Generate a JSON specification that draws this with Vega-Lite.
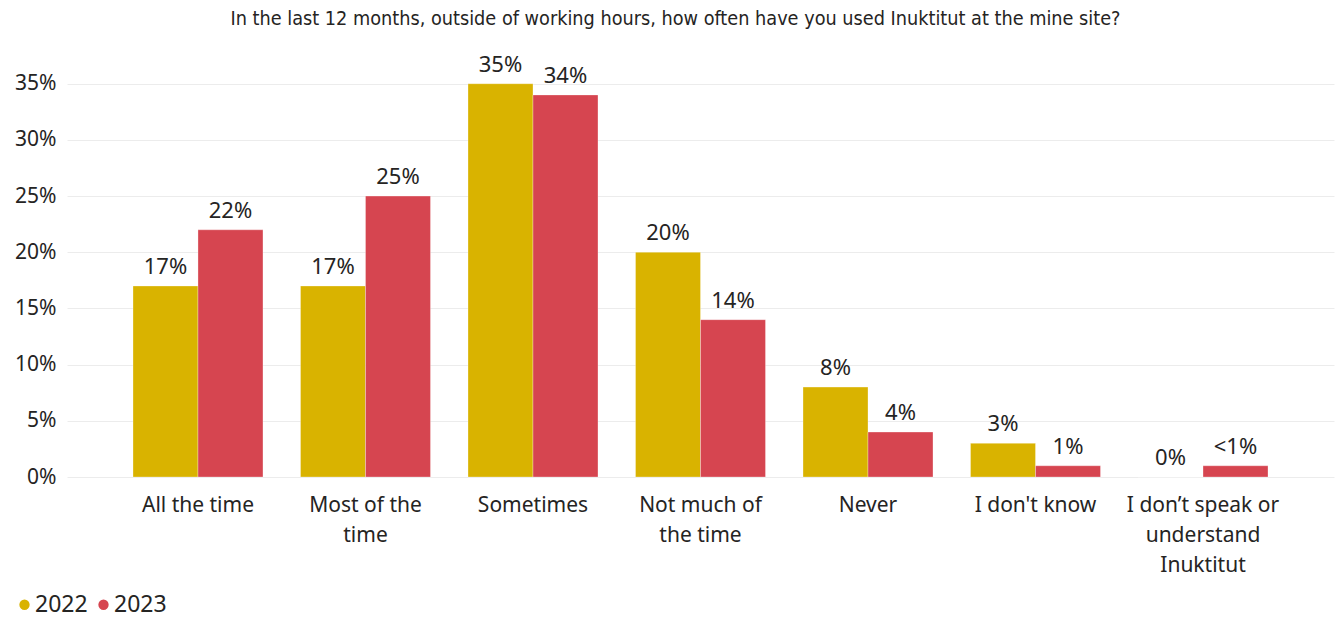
{
  "$schema": "https://vega.github.io/schema/vega-lite/v6.json",
  "autosize": {"type": "none"},
  "padding": {"left": 67, "top": 50, "right": 7, "bottom": 141},
  "width": 1267,
  "height": 427,
  "background": "white",
  "title": {
    "text": "In the last 12 months, outside of working hours, how often have you used Inuktitut at the mine site?",
    "font": "DejaVu Sans Condensed, Roboto",
    "fontSize": 19.7,
    "fontWeight": "normal",
    "color": "#252423",
    "anchor": "middle",
    "dx": -25,
    "offset": 21
  },
  "data": {
    "values": [
      {"category": "All the time", "year": "2022", "value": 0.17, "label": "17%"},
      {"category": "All the time", "year": "2023", "value": 0.22, "label": "22%"},
      {"category": "Most of the time", "year": "2022", "value": 0.17, "label": "17%"},
      {"category": "Most of the time", "year": "2023", "value": 0.25, "label": "25%"},
      {"category": "Sometimes", "year": "2022", "value": 0.35, "label": "35%"},
      {"category": "Sometimes", "year": "2023", "value": 0.34, "label": "34%"},
      {"category": "Not much of the time", "year": "2022", "value": 0.20, "label": "20%"},
      {"category": "Not much of the time", "year": "2023", "value": 0.14, "label": "14%"},
      {"category": "Never", "year": "2022", "value": 0.08, "label": "8%"},
      {"category": "Never", "year": "2023", "value": 0.04, "label": "4%"},
      {"category": "I don't know", "year": "2022", "value": 0.03, "label": "3%"},
      {"category": "I don't know", "year": "2023", "value": 0.01, "label": "1%"},
      {"category": "I don’t speak or understand Inuktitut", "year": "2022", "value": 0.0, "label": "0%"},
      {"category": "I don’t speak or understand Inuktitut", "year": "2023", "value": 0.01, "label": "<1%"}
    ]
  },
  "encoding": {
    "x": {
      "field": "category",
      "type": "nominal",
      "sort": null,
      "scale": {"paddingInner": 0.224, "paddingOuter": 0.394},
      "axis": {
        "title": null,
        "labelAngle": 0,
        "domain": false,
        "ticks": false,
        "labelFont": "Noto Sans",
        "labelFontSize": 21,
        "labelColor": "#252423",
        "labelPadding": 17,
        "labelLineHeight": 30,
        "labelLimit": 0,
        "labelExpr": "datum.value == 'Most of the time' ? ['Most of the', 'time'] : datum.value == 'Not much of the time' ? ['Not much of', 'the time'] : datum.value == 'I don’t speak or understand Inuktitut' ? ['I don’t speak or', 'understand', 'Inuktitut'] : datum.value"
      }
    },
    "xOffset": {"field": "year", "type": "nominal", "scale": {"paddingInner": 0, "paddingOuter": 0}},
    "y": {
      "field": "value",
      "type": "quantitative",
      "scale": {"domain": [0, 0.38], "nice": false},
      "axis": {
        "title": null,
        "format": ".0%",
        "values": [0, 0.05, 0.1, 0.15, 0.2, 0.25, 0.3, 0.35],
        "domain": false,
        "ticks": false,
        "labelFont": "Noto Sans",
        "labelFontSize": 21,
        "labelColor": "#252423",
        "labelPadding": 11,
        "gridColor": "#ececec",
        "gridWidth": 1
      }
    }
  },
  "layer": [
    {
      "mark": {"type": "bar", "stroke": "white", "strokeOpacity": 0.3, "strokeWidth": 1},
      "encoding": {
        "color": {
          "field": "year",
          "type": "nominal",
          "scale": {"domain": ["2022", "2023"], "range": ["#D9B300", "#D64550"]},
          "legend": {
            "title": null,
            "orient": "none",
            "legendX": -54,
            "legendY": 543,
            "direction": "horizontal",
            "symbolType": "circle",
            "symbolSize": 140,
            "labelFont": "Noto Sans",
            "labelFontSize": 23,
            "labelColor": "#252423",
            "labelOffset": -1,
            "columnPadding": 4
          }
        }
      }
    },
    {
      "mark": {"type": "text", "baseline": "bottom", "dy": -7, "font": "Noto Sans", "fontSize": 22, "color": "#252423"},
      "encoding": {"text": {"field": "label"}}
    }
  ],
  "config": {"view": {"stroke": null}}
}
